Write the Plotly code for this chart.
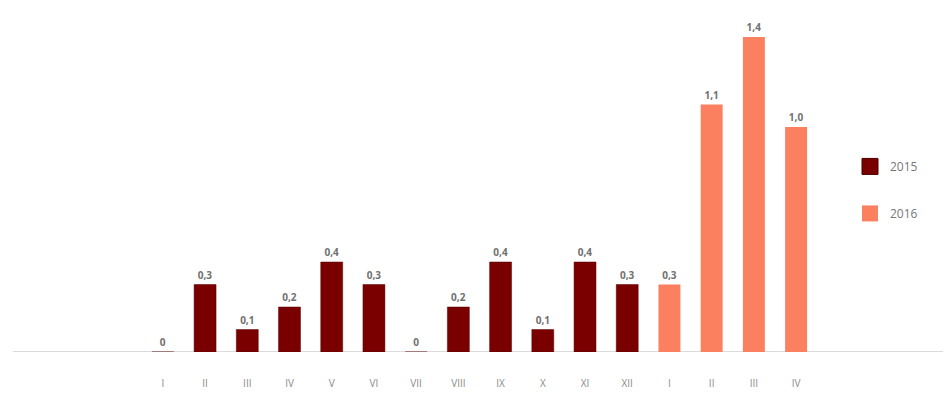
import plotly.graph_objects as go

months_2015 = ["I", "II", "III", "IV", "V", "VI", "VII", "VIII", "IX", "X", "XI", "XII"]
values_2015 = [0, 0.3, 0.1, 0.2, 0.4, 0.3, 0, 0.2, 0.4, 0.1, 0.4, 0.3]
months_2016 = ["I", "II", "III", "IV"]
values_2016 = [0.3, 1.1, 1.4, 1.0]

c2015 = "#7a0000"
c2016 = "#fb8060"
text_grey = "#707070"

x2015 = list(range(len(months_2015)))
x2016 = list(range(len(months_2015), len(months_2015) + len(months_2016)))
tick_text = months_2015 + months_2016
tick_vals = x2015 + x2016


def templates(vals):
    return ["%{y}" if v == 0 else "%{y:.1f}" for v in vals]


label_font = dict(size=10, color=text_grey, family="Open Sans", weight="bold")

fig = go.Figure()
fig.add_trace(go.Bar(
    x=x2015, y=values_2015, name="2015", marker_color=c2015,
    marker_line=dict(color="#5a0000", width=0.5),
    texttemplate=templates(values_2015), textposition="outside",
    textfont=label_font, outsidetextfont=label_font,
    cliponaxis=False, showlegend=False,
))
fig.add_trace(go.Bar(
    x=x2016, y=values_2016, name="2016", marker_color=c2016,
    marker_line_width=0,
    texttemplate=templates(values_2016), textposition="outside",
    textfont=label_font, outsidetextfont=label_font,
    cliponaxis=False, showlegend=False,
))
# legend entries
fig.add_trace(go.Scatter(x=[None], y=[None], mode="markers", name="2015",
                         legendgroup="a",
                         marker=dict(symbol="square", size=16, color=c2015,
                                     line=dict(color="#4a0000", width=1))))
fig.add_trace(go.Scatter(x=[None], y=[None], mode="markers", name="2016",
                         legendgroup="b",
                         marker=dict(symbol="square", size=16, color=c2016)))

fig.update_layout(
    width=947, height=405,
    margin=dict(l=13, r=4, t=10, b=53),
    paper_bgcolor="white", plot_bgcolor="white",
    barmode="overlay", bargap=0.48,
    separators=", ",
    font=dict(family="Open Sans", color=text_grey),
    legend=dict(x=0.9, y=0.585, xanchor="left", yanchor="top",
                font=dict(size=12, color="#777777"),
                itemsizing="trace", traceorder="grouped", tracegroupgap=28,
                bgcolor="rgba(0,0,0,0)"),
    xaxis=dict(
        tickmode="array", tickvals=tick_vals, ticktext=tick_text,
        range=[-3.55, len(tick_vals) - 1 + 3.48],
        showgrid=False, zeroline=False, showline=False,
        ticks="", ticklabelstandoff=24,
        tickfont=dict(size=10, color="#8a8a8a"),
    ),
    yaxis=dict(range=[0, 1.52], visible=False, showgrid=False,
               zeroline=True, zerolinecolor="#cfcfcf", zerolinewidth=1.5),
)
fig.add_hline(y=0, line_color="#cfcfcf", line_width=1.5, layer="below")

fig.write_html("out.html")
